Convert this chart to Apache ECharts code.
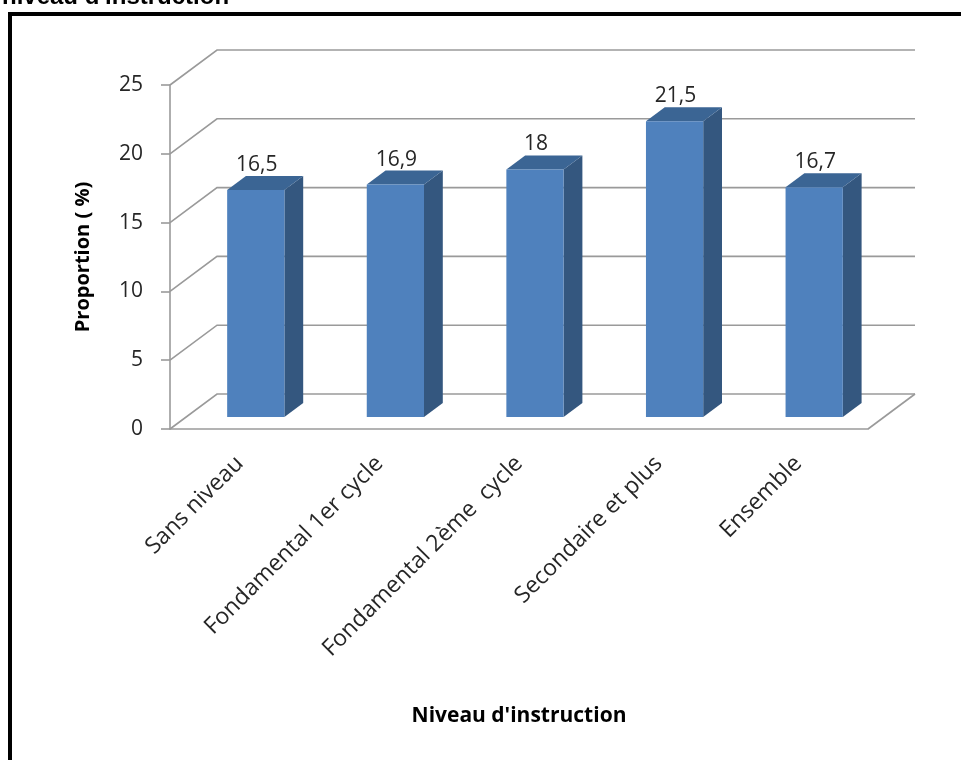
<!DOCTYPE html>
<html>
<head>
<meta charset="utf-8">
<script src="https://cdn.jsdelivr.net/npm/echarts@6/dist/echarts.min.js"></script>
<style>
  html, body { margin: 0; padding: 0; background: #fff; }
  #chart { width: 961px; height: 760px; }
</style>
</head>
<body>
<div id="chart"></div>
<script>
// Proportion by education level
const categories = ['Sans niveau', 'Fondamental 1er cycle', 'Fondamental 2ème  cycle', 'Secondaire et plus', 'Ensemble'];
const proportions = [16.5, 16.9, 18, 21.5, 16.7];
const yTicks = [0, 5, 10, 15, 20, 25];

// pseudo-3D depth of the floor and the position of the boxes inside it
const DX = 47, DY = -35;
const F_FRONT = 0.34, F_BACK = 0.74;
const GRID_COLOR = '#9a9a9a';
const FONT = '"Open Sans", "DejaVu Sans", sans-serif';

const fmt = v => String(v).replace('.', ',');

function renderWall(params, api) {
  const cs = params.coordSys;
  const v = api.value(1);
  const y = api.coord([0, v])[1];
  const x0 = cs.x, x1 = cs.x + cs.width;
  const children = [{
    type: 'polyline',
    shape: { points: [[x0, y], [x0 + DX, y + DY], [x1 + DX, y + DY]] },
    style: { stroke: GRID_COLOR, lineWidth: 1.6, fill: null }
  }];
  if (v === 0) {
    children.push({
      type: 'line',
      shape: { x1: x1, y1: y, x2: x1 + DX, y2: y + DY },
      style: { stroke: GRID_COLOR, lineWidth: 1.6 }
    });
  }
  return { type: 'group', children: children };
}

function renderBar(params, api) {
  const i = api.value(0), v = api.value(1);
  const top = api.coord([i, v]);
  const base = api.coord([i, 0]);
  const w = api.size([1, 0])[0] * 0.41;
  const ox = DX * F_FRONT, oy = DY * F_FRONT;
  const sx = DX * (F_BACK - F_FRONT), sy = DY * (F_BACK - F_FRONT);
  const L = top[0] + ox - w / 2, R = L + w;
  const T = top[1] + oy, B = base[1] + oy;
  return {
    type: 'group',
    children: [
      { type: 'polygon', shape: { points: [[R, T], [R + sx, T + sy], [R + sx, B + sy], [R, B]] },
        style: { fill: '#34577f' } },
      { type: 'polygon', shape: { points: [[L, T], [R, T], [R + sx, T + sy], [L + sx, T + sy]] },
        style: { fill: '#3b6594' } },
      { type: 'rect', shape: { x: L, y: T, width: w, height: B - T },
        style: { fill: '#4f81bd' } },
      { type: 'text', x: (L + R) / 2 + 1, y: T - 25,
        style: { text: fmt(v), align: 'center', verticalAlign: 'middle',
                 font: '21px ' + FONT, fill: '#262626' } }
    ]
  };
}

const chart = echarts.init(document.getElementById('chart'), null, { renderer: 'canvas' });
chart.setOption({
  animation: false,
  backgroundColor: '#fff',
  grid: { left: 170, right: 93, top: 85, bottom: 331, containLabel: false },
  xAxis: {
    type: 'category',
    data: categories,
    name: "Niveau d'instruction",
    nameLocation: 'middle',
    nameGap: 277,
    nameTextStyle: { fontFamily: FONT, fontWeight: 'bold', fontSize: 21, color: '#000' },
    axisLine: { show: true, lineStyle: { color: GRID_COLOR, width: 1.6 } },
    axisTick: { show: false },
    splitLine: { show: false },
    axisLabel: { rotate: 45, margin: 31, fontFamily: FONT, fontSize: 23, color: '#262626', interval: 0 }
  },
  yAxis: {
    type: 'value',
    min: 0, max: 25, interval: 5,
    name: 'Proportion ( %)',
    nameLocation: 'middle',
    nameGap: 77,
    nameRotate: 90,
    nameTextStyle: { fontFamily: FONT, fontWeight: 'bold', fontSize: 20, color: '#000' },
    axisLine: { show: true, lineStyle: { color: GRID_COLOR, width: 1.6 } },
    axisTick: { show: true, length: 9, lineStyle: { color: GRID_COLOR, width: 1.6 } },
    splitLine: { show: false },
    axisLabel: { margin: 27, fontFamily: FONT, fontSize: 21, color: '#262626',
                 formatter: v => fmt(v) }
  },
  series: [
    { type: 'custom', name: 'wall', renderItem: renderWall, z: 1, silent: true,
      data: yTicks.map(v => [0, v]) },
    { type: 'custom', name: 'Proportion', renderItem: renderBar, z: 2,
      data: proportions.map((v, i) => [i, v]) }
  ],
  graphic: [
    { type: 'rect', shape: { x: 10, y: 14, width: 1000, height: 1000 },
      style: { fill: null, stroke: '#000', lineWidth: 4 }, z: 10 },
    { type: 'text', x: 2, y: 9,
      style: { text: "niveau d'instruction", font: 'bold 24px "Liberation Sans", Arial, sans-serif',
               fill: '#000', verticalAlign: 'bottom' } }
  ]
});
</script>
</body>
</html>
